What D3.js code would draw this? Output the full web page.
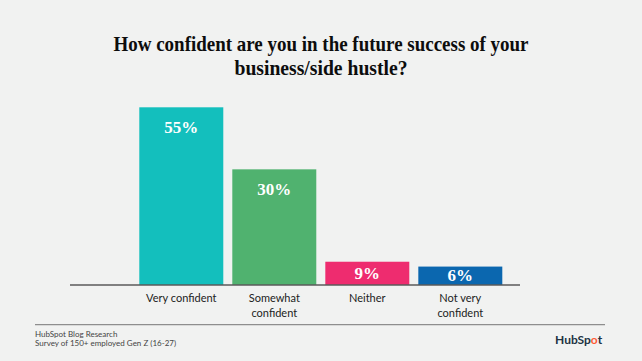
<!DOCTYPE html>
<html>
<head>
<meta charset="utf-8">
<script src="https://cdn.jsdelivr.net/npm/d3@7/dist/d3.min.js"></script>
<style>
  html, body { margin: 0; padding: 0; background: #F1F2F1; }
  svg { display: block; }
</style>
</head>
<body>
<svg id="chart" width="642" height="361"></svg>
<script>
// ---- data ----
const titleLines = ["How confident are you in the future success of your", "business/side hustle?"];
const categories = ["Very confident", "Somewhat confident", "Neither", "Not very confident"];
const categoryLines = [["Very confident"], ["Somewhat", "confident"], ["Neither"], ["Not very", "confident"]];
const values = [55, 30, 9, 6];                 // printed labels (%)
const drawnValues = [55, 35.8, 7.2, 5.7];      // bar lengths as drawn in the picture (%)
const colors = ["#13BFBD", "#50B26F", "#EE2C6F", "#0B67AF"];
const footerLines = ["HubSpot Blog Research", "Survey of 150+ employed Gen Z (16-27)"];

const svg = d3.select("#chart");
svg.append("rect").attr("width", 642).attr("height", 361).attr("fill", "#F1F2F1");

// title
const title = svg.append("text")
  .attr("text-anchor", "middle")
  .attr("font-family", "'Liberation Serif', 'DejaVu Serif', serif")
  .attr("font-weight", "bold")
  .attr("font-size", 21)
  .attr("fill", "#0d0d0d");
title.append("tspan").attr("x", 321).attr("y", 51).text(titleLines[0])
  .attr("textLength", 415).attr("lengthAdjust", "spacingAndGlyphs");
title.append("tspan").attr("x", 321).attr("y", 75).text(titleLines[1])
  .attr("textLength", 173).attr("lengthAdjust", "spacingAndGlyphs");

// scales
const x = d3.scaleBand().domain(categories).range([139.3, 502.3]).paddingInner(0.097).paddingOuter(0);
const y = d3.scaleLinear().domain([0, 55]).range([285, 107.3]);

// bars
const data = categories.map((c, i) => ({ c, v: values[i], d: drawnValues[i], color: colors[i], lines: categoryLines[i] }));
svg.selectAll("rect.bar").data(data).enter().append("rect")
  .attr("class", "bar")
  .attr("x", d => x(d.c))
  .attr("y", d => y(d.d))
  .attr("width", x.bandwidth())
  .attr("height", d => y(0) - y(d.d))
  .attr("fill", d => d.color);

// baseline
svg.append("line").attr("x1", 70).attr("x2", 520).attr("y1", y(0)).attr("y2", y(0))
  .attr("stroke", "#5a5a5a").attr("stroke-width", 1.3);

// value labels
svg.selectAll("text.val").data(data).enter().append("text")
  .attr("class", "val")
  .attr("x", d => x(d.c) + x.bandwidth() / 2)
  .attr("y", d => {
    const top = y(d.d), h = y(0) - top;
    return h > 50 ? top + 26 : (top + y(0)) / 2 + 5.5;
  })
  .attr("text-anchor", "middle")
  .attr("font-family", "'Liberation Serif', 'DejaVu Serif', serif")
  .attr("font-weight", "bold")
  .attr("font-size", 17)
  .attr("fill", "#fff")
  .text(d => d.v + "%");

// category labels
const cat = svg.selectAll("text.cat").data(data).enter().append("text")
  .attr("class", "cat")
  .attr("text-anchor", "middle")
  .attr("font-family", "Lato, 'Noto Sans', sans-serif")
  .attr("font-size", 11)
  .attr("fill", "#222");
cat.each(function(d) {
  const t = d3.select(this);
  d.lines.forEach((ln, j) => {
    t.append("tspan").attr("x", x(d.c) + x.bandwidth() / 2).attr("y", 302 + j * 15).text(ln);
  });
});

// footer line
svg.append("line").attr("x1", 35).attr("x2", 605).attr("y1", 324.7).attr("y2", 324.7)
  .attr("stroke", "#8e8e8e").attr("stroke-width", 1.3);

// footer text
footerLines.forEach((t, i) => {
  svg.append("text").attr("x", 35).attr("y", 337 + i * 9)
    .attr("font-family", "Lato, 'Noto Sans', sans-serif")
    .attr("font-size", 8)
    .attr("fill", "#444")
    .text(t);
});

// logo
const logo = svg.append("text").attr("x", 555).attr("y", 344)
  .attr("font-family", "Lato, 'Noto Sans', sans-serif")
  .attr("font-weight", "bold")
  .attr("font-size", 12)
  .attr("fill", "#213343");
logo.append("tspan").text("HubSp");
logo.append("tspan").attr("fill", "#FF5C35").text("o");
logo.append("tspan").text("t");
</script>
</body>
</html>
